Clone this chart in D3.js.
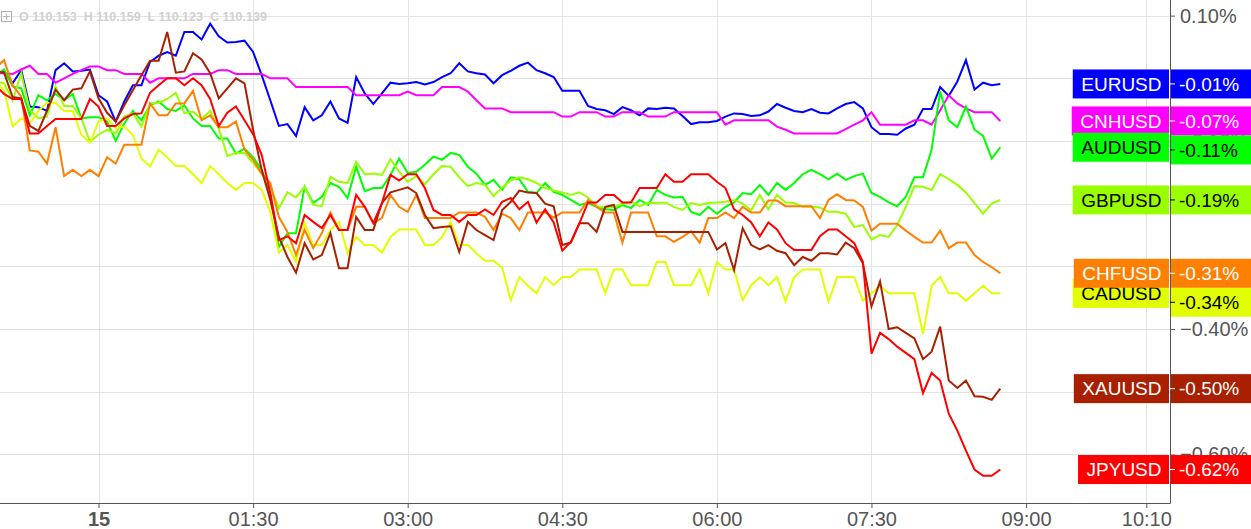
<!DOCTYPE html>
<html>
<head>
<meta charset="utf-8">
<script src="https://cdn.jsdelivr.net/npm/d3@7"></script>
<style>
  html, body { margin: 0; padding: 0; background: #fff; }
  svg { display: block; font-family: "Liberation Sans", Arial, sans-serif; }
</style>
</head>
<body>
<svg id="chart" width="1251" height="529"></svg>
<script>
// ---------------- DATA ----------------
// 5-minute samples, first at 23:00 (14th), last at 08:45 (15th); values in %
const startTime = "2000-01-14T23:00:00Z";
const stepMinutes = 5;

const symbols = ["EURUSD", "CNHUSD", "AUDUSD", "GBPUSD", "CADUSD", "CHFUSD", "XAUUSD", "JPYUSD"];
const lineColors = ["#0000ff", "#ff00ff", "#00ff00", "#99ff00", "#e1ff00", "#ff8000", "#a82000", "#ff0000"];
const labelTextColors = ["#ffffff", "#ffffff", "#000000", "#000000", "#000000", "#ffffff", "#ffffff", "#ffffff"];

const EURUSD = [0.007,0.011,-0.008,0.013,-0.045,-0.046,-0.052,0.013,0.024,0.011,0.012,0.014,-0.027,-0.037,-0.069,-0.037,-0.011,-0.011,0.026,0.036,0.042,0.036,0.074,0.074,0.062,0.087,0.067,0.057,0.058,0.060,
  0.042,0.005,-0.035,-0.076,-0.073,-0.092,-0.046,-0.067,-0.059,-0.037,-0.064,-0.071,0.002,-0.024,-0.041,-0.024,-0.007,-0.009,-0.008,-0.006,-0.010,-0.006,0.002,0.008,0.024,0.011,0.008,0.006,-0.008,0.005,
  0.012,0.020,0.025,0.013,0.008,0.002,-0.020,-0.020,-0.020,-0.044,-0.049,-0.051,-0.057,-0.046,-0.051,-0.059,-0.048,-0.049,-0.047,-0.048,-0.060,-0.073,-0.070,-0.070,-0.068,-0.061,-0.056,-0.057,-0.060,-0.059,
  -0.053,-0.041,-0.047,-0.052,-0.054,-0.049,-0.055,-0.056,-0.048,-0.041,-0.038,-0.048,-0.078,-0.089,-0.089,-0.090,-0.080,-0.074,-0.049,-0.049,-0.014,-0.028,-0.005,0.029,-0.018,-0.007,-0.011,-0.009];

const CNHUSD = [0.008,0.008,0.007,0.014,0.020,0.007,0.007,-0.007,0.000,0.007,0.013,0.019,0.019,0.013,0.013,0.007,0.007,0.007,-0.007,0.000,0.000,0.000,0.000,0.007,0.007,0.007,0.013,0.013,0.007,0.007,
  0.007,0.007,0.000,0.000,0.000,-0.014,-0.014,-0.014,-0.014,-0.014,-0.014,-0.014,-0.027,-0.027,-0.027,-0.027,-0.027,-0.027,-0.021,-0.027,-0.027,-0.027,-0.014,-0.014,-0.014,-0.021,-0.035,-0.048,-0.048,-0.048,
  -0.054,-0.054,-0.054,-0.054,-0.054,-0.054,-0.061,-0.061,-0.054,-0.054,-0.054,-0.061,-0.061,-0.054,-0.054,-0.054,-0.061,-0.061,-0.061,-0.054,-0.054,-0.054,-0.054,-0.054,-0.054,-0.074,-0.067,-0.067,-0.067,-0.067,
  -0.067,-0.077,-0.082,-0.088,-0.088,-0.088,-0.088,-0.088,-0.088,-0.081,-0.074,-0.067,-0.054,-0.074,-0.074,-0.074,-0.074,-0.067,-0.067,-0.074,-0.051,-0.027,-0.040,-0.048,-0.054,-0.054,-0.054,-0.068];

const AUDUSD = [0.005,0.014,-0.013,-0.016,-0.059,-0.027,-0.035,-0.025,-0.035,-0.025,-0.064,-0.062,-0.062,-0.069,-0.100,-0.072,-0.052,-0.067,-0.043,-0.037,-0.049,-0.052,-0.043,-0.064,-0.076,-0.076,-0.096,-0.096,-0.120,-0.112,
  -0.126,-0.146,-0.183,-0.269,-0.247,-0.247,-0.173,-0.199,-0.189,-0.167,-0.173,-0.191,-0.141,-0.180,-0.175,-0.175,-0.154,-0.128,-0.151,-0.149,-0.138,-0.125,-0.130,-0.119,-0.122,-0.141,-0.152,-0.170,-0.162,-0.178,
  -0.158,-0.161,-0.181,-0.183,-0.167,-0.181,-0.186,-0.194,-0.202,-0.199,-0.205,-0.209,-0.210,-0.202,-0.207,-0.194,-0.202,-0.178,-0.186,-0.190,-0.189,-0.213,-0.218,-0.205,-0.216,-0.205,-0.198,-0.183,-0.185,-0.170,
  -0.186,-0.167,-0.178,-0.167,-0.153,-0.146,-0.153,-0.161,-0.152,-0.162,-0.156,-0.152,-0.183,-0.189,-0.198,-0.204,-0.189,-0.158,-0.158,-0.114,-0.021,-0.067,-0.078,-0.045,-0.082,-0.092,-0.128,-0.110];

const GBPUSD = [-0.005,-0.008,-0.035,0.008,-0.051,-0.064,-0.061,-0.013,-0.044,-0.044,-0.064,-0.101,-0.090,-0.082,-0.088,-0.061,-0.056,-0.077,-0.040,-0.039,-0.033,-0.023,-0.056,-0.053,-0.065,-0.052,-0.080,-0.124,-0.119,-0.119,
  -0.135,-0.152,-0.173,-0.207,-0.182,-0.190,-0.173,-0.202,-0.204,-0.157,-0.165,-0.167,-0.133,-0.153,-0.152,-0.154,-0.129,-0.149,-0.165,-0.156,-0.169,-0.153,-0.140,-0.141,-0.158,-0.172,-0.167,-0.170,-0.188,-0.174,
  -0.163,-0.158,-0.161,-0.167,-0.175,-0.179,-0.182,-0.186,-0.182,-0.190,-0.204,-0.206,-0.205,-0.200,-0.197,-0.204,-0.199,-0.199,-0.198,-0.205,-0.210,-0.199,-0.202,-0.199,-0.198,-0.197,-0.194,-0.200,-0.211,-0.186,
  -0.209,-0.186,-0.198,-0.199,-0.205,-0.205,-0.206,-0.213,-0.213,-0.216,-0.237,-0.234,-0.257,-0.250,-0.253,-0.234,-0.205,-0.172,-0.173,-0.178,-0.153,-0.161,-0.170,-0.182,-0.199,-0.216,-0.200,-0.194];

const CADUSD = [-0.003,-0.019,-0.077,-0.064,-0.072,-0.052,-0.039,-0.039,-0.052,-0.052,-0.090,-0.103,-0.069,-0.064,-0.080,-0.077,-0.090,-0.128,-0.141,-0.114,-0.126,-0.140,-0.140,-0.153,-0.167,-0.140,-0.153,-0.167,-0.178,-0.167,
  -0.167,-0.178,-0.213,-0.278,-0.266,-0.293,-0.231,-0.266,-0.266,-0.242,-0.229,-0.279,-0.253,-0.266,-0.266,-0.278,-0.253,-0.241,-0.241,-0.241,-0.266,-0.266,-0.253,-0.229,-0.266,-0.266,-0.279,-0.291,-0.291,-0.302,
  -0.354,-0.317,-0.331,-0.343,-0.317,-0.330,-0.317,-0.317,-0.305,-0.305,-0.305,-0.343,-0.305,-0.305,-0.330,-0.330,-0.330,-0.293,-0.293,-0.330,-0.330,-0.330,-0.305,-0.343,-0.293,-0.305,-0.305,-0.354,-0.330,-0.317,
  -0.330,-0.317,-0.356,-0.317,-0.305,-0.305,-0.305,-0.356,-0.317,-0.317,-0.317,-0.355,-0.343,-0.331,-0.343,-0.343,-0.343,-0.343,-0.408,-0.331,-0.317,-0.343,-0.343,-0.355,-0.343,-0.331,-0.343,-0.343];

const CHFUSD = [0.016,0.029,-0.011,-0.029,-0.115,-0.117,-0.136,-0.078,-0.156,-0.146,-0.156,-0.146,-0.156,-0.126,-0.136,-0.106,-0.106,-0.106,-0.040,-0.059,-0.059,-0.040,-0.040,-0.020,-0.067,-0.059,-0.078,-0.078,-0.069,-0.114,
  -0.130,-0.152,-0.167,-0.221,-0.245,-0.282,-0.242,-0.271,-0.247,-0.214,-0.242,-0.242,-0.205,-0.205,-0.231,-0.223,-0.186,-0.205,-0.213,-0.186,-0.223,-0.223,-0.223,-0.223,-0.214,-0.214,-0.214,-0.221,-0.242,-0.216,
  -0.223,-0.242,-0.214,-0.214,-0.214,-0.222,-0.214,-0.214,-0.214,-0.194,-0.205,-0.214,-0.214,-0.262,-0.214,-0.214,-0.214,-0.252,-0.252,-0.261,-0.253,-0.244,-0.262,-0.223,-0.223,-0.214,-0.223,-0.205,-0.214,-0.214,
  -0.195,-0.195,-0.204,-0.204,-0.204,-0.204,-0.223,-0.194,-0.185,-0.194,-0.195,-0.205,-0.243,-0.232,-0.232,-0.232,-0.243,-0.253,-0.262,-0.262,-0.243,-0.271,-0.262,-0.262,-0.282,-0.293,-0.301,-0.311];

const XAUUSD = [0.011,0.009,-0.030,-0.032,-0.076,-0.084,-0.052,-0.018,-0.035,-0.018,-0.016,0.011,-0.032,-0.055,-0.069,-0.043,-0.019,0.005,0.028,0.028,0.074,0.009,0.011,0.040,0.030,0.008,-0.032,-0.016,0.000,-0.008,
  -0.082,-0.146,-0.194,-0.253,-0.285,-0.310,-0.263,-0.289,-0.282,-0.247,-0.303,-0.303,-0.221,-0.242,-0.242,-0.199,-0.182,-0.178,-0.174,-0.183,-0.218,-0.239,-0.237,-0.236,-0.277,-0.229,-0.242,-0.250,-0.258,-0.210,
  -0.197,-0.179,-0.182,-0.183,-0.200,-0.204,-0.266,-0.262,-0.231,-0.231,-0.245,-0.205,-0.202,-0.245,-0.245,-0.245,-0.245,-0.245,-0.245,-0.245,-0.245,-0.245,-0.245,-0.245,-0.273,-0.263,-0.306,-0.239,-0.266,-0.273,
  -0.266,-0.275,-0.279,-0.298,-0.285,-0.291,-0.279,-0.279,-0.281,-0.262,-0.271,-0.295,-0.364,-0.324,-0.400,-0.397,-0.406,-0.415,-0.448,-0.436,-0.396,-0.482,-0.494,-0.482,-0.507,-0.508,-0.513,-0.495];

const JPYUSD = [-0.011,-0.025,-0.033,-0.033,-0.088,-0.088,-0.076,-0.065,-0.065,-0.065,-0.065,-0.033,-0.045,-0.076,-0.076,-0.064,-0.057,-0.056,-0.023,-0.011,0.000,0.000,-0.011,0.000,-0.011,-0.033,-0.076,-0.055,-0.045,-0.067,
  -0.089,-0.122,-0.183,-0.258,-0.252,-0.263,-0.218,-0.229,-0.239,-0.218,-0.242,-0.242,-0.186,-0.205,-0.231,-0.199,-0.154,-0.163,-0.153,-0.153,-0.175,-0.210,-0.218,-0.218,-0.229,-0.218,-0.218,-0.209,-0.218,-0.197,
  -0.191,-0.209,-0.197,-0.230,-0.209,-0.230,-0.275,-0.261,-0.231,-0.198,-0.198,-0.186,-0.186,-0.198,-0.198,-0.175,-0.175,-0.175,-0.153,-0.165,-0.165,-0.153,-0.153,-0.153,-0.165,-0.175,-0.209,-0.218,-0.230,-0.252,
  -0.230,-0.241,-0.263,-0.274,-0.274,-0.274,-0.252,-0.241,-0.241,-0.252,-0.263,-0.293,-0.439,-0.406,-0.416,-0.428,-0.438,-0.448,-0.502,-0.470,-0.482,-0.535,-0.562,-0.594,-0.624,-0.634,-0.634,-0.624];

const seriesValues = [EURUSD, CNHUSD, AUDUSD, GBPUSD, CADUSD, CHFUSD, XAUUSD, JPYUSD];
const endLabels = ["-0.01%", "-0.07%", "-0.11%", "-0.19%", "-0.34%", "-0.31%", "-0.50%", "-0.62%"];

const yTicks = [0.1, 0.0, -0.1, -0.2, -0.3, -0.4, -0.5, -0.6];
const xTickTimes = ["2000-01-15T00:00:00Z", "2000-01-15T01:30:00Z", "2000-01-15T03:00:00Z", "2000-01-15T04:30:00Z",
                    "2000-01-15T06:00:00Z", "2000-01-15T07:30:00Z", "2000-01-15T09:00:00Z", "2000-01-15T10:10:00Z"];
const xTickLabels = ["15", "01:30", "03:00", "04:30", "06:00", "07:30", "09:00", "10:10"];
const ohlcText = "O 110.153  H 110.159  L 110.123  C 110.139";

// ---------------- CHART ----------------
const W = 1251, H = 529;
const plotRight = 1170, plotBottom = 503;
const svg = d3.select("#chart");

const x = d3.scaleUtc()
  .domain([new Date("2000-01-14T23:02:39Z"), new Date("2000-01-15T10:23:48Z")])
  .range([0, plotRight]);
const y = d3.scaleLinear().domain([-0.6774, 0.1249]).range([plotBottom, 0]);

const t0 = new Date(startTime).getTime();
const timeAt = i => new Date(t0 + i * stepMinutes * 60000);

svg.append("rect").attr("width", W).attr("height", H).attr("fill", "#fff");

// grid
const grid = svg.append("g");
grid.selectAll("line.h").data(yTicks).join("line")
  .attr("x1", 0).attr("x2", plotRight)
  .attr("y1", d => Math.round(y(d)) + 0.5).attr("y2", d => Math.round(y(d)) + 0.5)
  .attr("stroke", "#e3e3e3").attr("stroke-width", 1);
grid.selectAll("line.v").data(xTickTimes).join("line")
  .attr("x1", d => Math.round(x(new Date(d))) + 0.5).attr("x2", d => Math.round(x(new Date(d))) + 0.5)
  .attr("y1", 0).attr("y2", plotBottom)
  .attr("stroke", "#e3e3e3").attr("stroke-width", 1);

// OHLC info
const info = svg.append("g");
info.append("rect").attr("x", 1.5).attr("y", 11.5).attr("width", 10).attr("height", 10)
  .attr("fill", "none").attr("stroke", "#b0b0b0");
info.append("path").attr("d", "M3.5,16.5H9.5M6.5,13.5V19.5").attr("stroke", "#b0b0b0");
info.append("text").attr("x", 19).attr("y", 21).attr("font-size", 12.5).attr("font-weight", "bold")
  .attr("fill", "#d0d0d0").style("white-space", "pre").text(ohlcText);

// clip
svg.append("clipPath").attr("id", "clip").append("rect")
  .attr("x", 0).attr("y", 0).attr("width", plotRight).attr("height", plotBottom);

const line = d3.line().x((d, i) => x(timeAt(i))).y(d => y(d));
const lines = svg.append("g").attr("clip-path", "url(#clip)");
const drawOrder = [0, 1, 2, 3, 4, 5, 6, 7];
drawOrder.forEach(s => {
  lines.append("path").datum(seriesValues[s])
    .attr("d", line).attr("fill", "none")
    .attr("stroke", lineColors[s]).attr("stroke-width", 2)
    .attr("stroke-linejoin", "miter");
});

// axes
const yAxis = d3.axisRight(y).tickValues(yTicks).tickSize(5).tickPadding(5)
  .tickFormat(d => d3.format(".2f")(d) + "%");
const gy = svg.append("g").attr("transform", `translate(${plotRight},0)`).call(yAxis);
gy.select(".domain").remove();
gy.selectAll(".tick line").attr("stroke", "#555");
gy.selectAll(".tick text").attr("fill", "#555").attr("font-size", 20)
  .attr("font-family", "Liberation Sans, Arial, sans-serif");

const xAxis = d3.axisBottom(x).tickValues(xTickTimes.map(d => new Date(d))).tickSize(5).tickPadding(4)
  .tickFormat((d, i) => xTickLabels[i]);
const gx = svg.append("g").attr("transform", `translate(0,${plotBottom})`).call(xAxis);
gx.select(".domain").remove();
gx.selectAll(".tick line").attr("stroke", "#555");
gx.selectAll(".tick text").attr("fill", "#555").attr("font-size", 20)
  .attr("font-family", "Liberation Sans, Arial, sans-serif")
  .attr("font-weight", (d, i) => i === 0 ? "bold" : "normal");

svg.append("line").attr("x1", 0).attr("x2", plotRight + 0.5).attr("y1", plotBottom + 0.5).attr("y2", plotBottom + 0.5)
  .attr("stroke", "#555");
svg.append("line").attr("x1", plotRight + 0.5).attr("x2", plotRight + 0.5).attr("y1", 0).attr("y2", plotBottom + 0.5)
  .attr("stroke", "#555");

// end labels
const boxH = 29;
const lastY = seriesValues.map(v => y(v[v.length - 1]));
// right labels: push down to avoid overlap
const order = d3.range(symbols.length).sort((a, b) => lastY[a] - lastY[b]);
const rightY = lastY.slice();
let prev = -Infinity;
order.forEach(i => {
  if (rightY[i] < prev + boxH) rightY[i] = prev + boxH;
  prev = rightY[i];
});

const labels = svg.append("g").attr("font-size", 19).attr("font-family", "Liberation Sans, Arial, sans-serif");
drawOrder.forEach(s => {
  const ly = lastY[s];
  const t = labels.append("text").attr("x", plotRight - 8.5).attr("y", ly).attr("dy", "0.36em")
    .attr("text-anchor", "end").attr("fill", labelTextColors[s]).text(symbols[s]);
  const w = t.node().getComputedTextLength();
  labels.insert("rect", () => t.node())
    .attr("x", plotRight - 1 - w - 16).attr("y", ly - boxH / 2)
    .attr("width", w + 16).attr("height", boxH).attr("fill", lineColors[s]);

  const ry = rightY[s];
  labels.append("rect").attr("x", plotRight + 1).attr("y", ry - boxH / 2)
    .attr("width", W - plotRight).attr("height", boxH).attr("fill", lineColors[s]);
  labels.append("line").attr("x1", plotRight).attr("x2", plotRight + 5)
    .attr("y1", ry).attr("y2", ry).attr("stroke", labelTextColors[s]);
  labels.append("text").attr("x", plotRight + 9).attr("y", ry).attr("dy", "0.36em")
    .attr("fill", labelTextColors[s]).text(endLabels[s]);
});
</script>
</body>
</html>
